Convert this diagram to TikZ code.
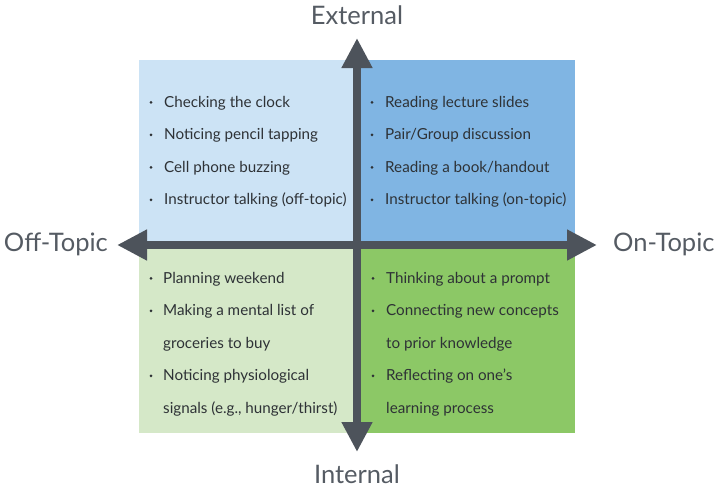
\documentclass[tikz,border=0pt]{standalone}
\usepackage{fontspec}
\setmainfont{Lato}
\usepackage{xcolor}
\usetikzlibrary{arrows.meta, positioning}

\definecolor{extoff}{HTML}{CCE3F5}
\definecolor{exton}{HTML}{80B5E3}
\definecolor{intoff}{HTML}{D5E8C8}
\definecolor{inton}{HTML}{8CC866}
\definecolor{axisgrey}{HTML}{4D535B}
\definecolor{labelgrey}{HTML}{555B63}
\definecolor{itemgrey}{HTML}{2E3236}

\begin{document}
\begin{tikzpicture}[
  x=1pt, y=-1pt,
  axisarrow/.style={draw=axisgrey, line width=8pt,
    {Triangle[length=30pt, width=29pt]}-{Triangle[length=30pt, width=29pt]}},
  axislabel/.style={font=\fontsize{25.5}{28}\selectfont, text=labelgrey, inner sep=0pt},
  item/.style={font=\fontsize{15.2}{17}\selectfont, text=itemgrey, anchor=base west, inner sep=0pt},
  bulletdot/.style={circle, fill=itemgrey, inner sep=0pt, minimum size=3pt}
]
\useasboundingbox (0,0) rectangle (720,491);

% ============ QUADRANTS ============
\fill[extoff] (139,60) rectangle (357,245);
\fill[exton]  (357,60) rectangle (575,245);
\fill[intoff] (139,245) rectangle (357,433);
\fill[inton]  (357,245) rectangle (575,433);

% ============ AXES ============
\coordinate (west)  at (117,245);
\coordinate (east)  at (597,245);
\coordinate (north) at (357,38);
\coordinate (south) at (357,452);
\draw[axisarrow] (west) -- (east);
\draw[axisarrow] (south) -- (north);

\node[axislabel] (external) at (357,15) {External};
\node[axislabel] (internal) at (357,474) {Internal};
\node[axislabel, anchor=east] (offtopic) at (108,244) {Off-Topic};
\node[axislabel, anchor=west] (ontopic) at (613,244) {On-Topic};

% ============ EXTERNAL / OFF-TOPIC ============
\foreach \txt [count=\i] in {Checking the clock, Noticing pencil tapping,
    Cell phone buzzing, Instructor talking (off-topic)} {
  \node[bulletdot] (eoffb\i) at (151,102.3+32.5*\i-32.5) {};
  \node[item] (eoff\i) at (164,107.3+32.5*\i-32.5) {\txt};
}

% ============ EXTERNAL / ON-TOPIC ============
\foreach \txt [count=\i] in {Reading lecture slides, Pair/Group discussion,
    Reading a book/handout, Instructor talking (on-topic)} {
  \node[bulletdot] (eonb\i) at (372,102.3+32.5*\i-32.5) {};
  \node[item] (eon\i) at (385,107.3+32.5*\i-32.5) {\txt};
}

% ============ INTERNAL / OFF-TOPIC ============
\foreach \b/\txt [count=\i] in {1/Planning weekend, 1/Making a mental list of,
    0/groceries to buy, 1/Noticing physiological,
    0/{signals (e.g., hunger/thirst)}} {
  \ifnum\b=1 \node[bulletdot] (ioffb\i) at (151,278.3+32.5*\i-32.5) {}; \fi
  \node[item] (ioff\i) at (163,283.3+32.5*\i-32.5) {\txt};
}

% ============ INTERNAL / ON-TOPIC ============
\foreach \b/\txt [count=\i] in {1/Thinking about a prompt, 1/Connecting new concepts,
    0/to prior knowledge, 1/Reflecting on one's,
    0/learning process} {
  \ifnum\b=1 \node[bulletdot] (ionb\i) at (373,278.3+32.5*\i-32.5) {}; \fi
  \node[item] (ion\i) at (386,283.3+32.5*\i-32.5) {\txt};
}

\end{tikzpicture}
\end{document}
